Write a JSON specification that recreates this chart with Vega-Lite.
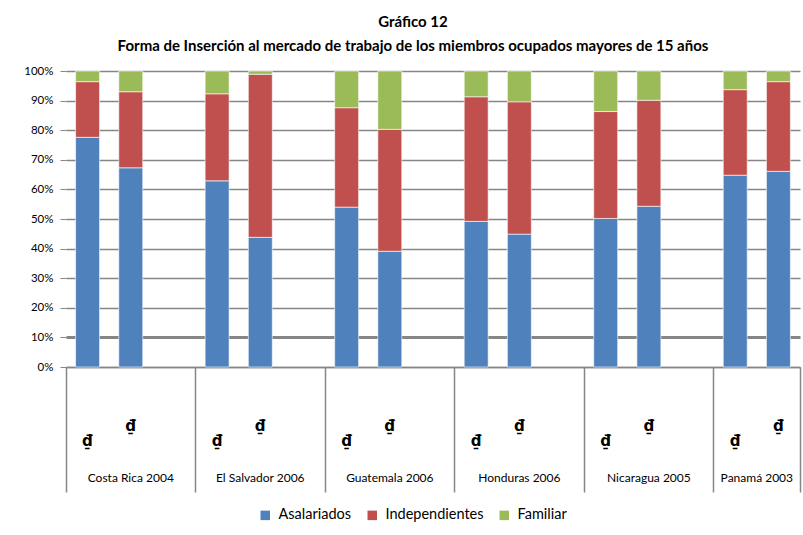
{
  "$schema": "https://vega.github.io/schema/vega-lite/v6.json",
  "width": 734,
  "height": 296,
  "autosize": {"type": "none"},
  "padding": {"left": 66, "top": 71, "right": 3, "bottom": 168},
  "background": "white",
  "title": {
    "text": ["Gráfico 12", "Forma de Inserción al mercado de trabajo de los miembros ocupados mayores de 15 años"],
    "font": "Lato", "fontSize": 15, "fontWeight": "bold", "lineHeight": 24,
    "anchor": "middle", "dx": -20, "offset": 11, "color": "#000000"
  },
  "config": {"view": {"stroke": null}, "font": "Lato"},
  "data": {
    "values": [
      {"slot": "CR1", "pais": "Costa Rica 2004", "serie": "Asalariados", "o": 1, "v": 77.6},
      {"slot": "CR1", "pais": "Costa Rica 2004", "serie": "Independientes", "o": 2, "v": 18.8},
      {"slot": "CR1", "pais": "Costa Rica 2004", "serie": "Familiar", "o": 3, "v": 3.6},
      {"slot": "CR2", "pais": "Costa Rica 2004", "serie": "Asalariados", "o": 1, "v": 67.3},
      {"slot": "CR2", "pais": "Costa Rica 2004", "serie": "Independientes", "o": 2, "v": 25.7},
      {"slot": "CR2", "pais": "Costa Rica 2004", "serie": "Familiar", "o": 3, "v": 7.0},
      {"slot": "ES1", "pais": "El Salvador 2006", "serie": "Asalariados", "o": 1, "v": 62.9},
      {"slot": "ES1", "pais": "El Salvador 2006", "serie": "Independientes", "o": 2, "v": 29.4},
      {"slot": "ES1", "pais": "El Salvador 2006", "serie": "Familiar", "o": 3, "v": 7.7},
      {"slot": "ES2", "pais": "El Salvador 2006", "serie": "Asalariados", "o": 1, "v": 43.8},
      {"slot": "ES2", "pais": "El Salvador 2006", "serie": "Independientes", "o": 2, "v": 55.1},
      {"slot": "ES2", "pais": "El Salvador 2006", "serie": "Familiar", "o": 3, "v": 1.1},
      {"slot": "GU1", "pais": "Guatemala 2006", "serie": "Asalariados", "o": 1, "v": 54.0},
      {"slot": "GU1", "pais": "Guatemala 2006", "serie": "Independientes", "o": 2, "v": 33.6},
      {"slot": "GU1", "pais": "Guatemala 2006", "serie": "Familiar", "o": 3, "v": 12.4},
      {"slot": "GU2", "pais": "Guatemala 2006", "serie": "Asalariados", "o": 1, "v": 39.1},
      {"slot": "GU2", "pais": "Guatemala 2006", "serie": "Independientes", "o": 2, "v": 41.2},
      {"slot": "GU2", "pais": "Guatemala 2006", "serie": "Familiar", "o": 3, "v": 19.7},
      {"slot": "HO1", "pais": "Honduras 2006", "serie": "Asalariados", "o": 1, "v": 49.2},
      {"slot": "HO1", "pais": "Honduras 2006", "serie": "Independientes", "o": 2, "v": 42.1},
      {"slot": "HO1", "pais": "Honduras 2006", "serie": "Familiar", "o": 3, "v": 8.7},
      {"slot": "HO2", "pais": "Honduras 2006", "serie": "Asalariados", "o": 1, "v": 44.9},
      {"slot": "HO2", "pais": "Honduras 2006", "serie": "Independientes", "o": 2, "v": 44.7},
      {"slot": "HO2", "pais": "Honduras 2006", "serie": "Familiar", "o": 3, "v": 10.4},
      {"slot": "NI1", "pais": "Nicaragua 2005", "serie": "Asalariados", "o": 1, "v": 50.2},
      {"slot": "NI1", "pais": "Nicaragua 2005", "serie": "Independientes", "o": 2, "v": 36.1},
      {"slot": "NI1", "pais": "Nicaragua 2005", "serie": "Familiar", "o": 3, "v": 13.7},
      {"slot": "NI2", "pais": "Nicaragua 2005", "serie": "Asalariados", "o": 1, "v": 54.3},
      {"slot": "NI2", "pais": "Nicaragua 2005", "serie": "Independientes", "o": 2, "v": 35.8},
      {"slot": "NI2", "pais": "Nicaragua 2005", "serie": "Familiar", "o": 3, "v": 9.9},
      {"slot": "PA1", "pais": "Panamá 2003", "serie": "Asalariados", "o": 1, "v": 64.8},
      {"slot": "PA1", "pais": "Panamá 2003", "serie": "Independientes", "o": 2, "v": 28.9},
      {"slot": "PA1", "pais": "Panamá 2003", "serie": "Familiar", "o": 3, "v": 6.3},
      {"slot": "PA2", "pais": "Panamá 2003", "serie": "Asalariados", "o": 1, "v": 66.1},
      {"slot": "PA2", "pais": "Panamá 2003", "serie": "Independientes", "o": 2, "v": 30.3},
      {"slot": "PA2", "pais": "Panamá 2003", "serie": "Familiar", "o": 3, "v": 3.6}
    ]
  },
  "encoding": {
    "y": {
      "field": "v", "type": "quantitative", "stack": "zero",
      "scale": {"domain": [0, 100], "nice": false},
      "axis": {
        "title": null,
        "values": [0,10,20,30,40,50,60,70,80,90,100],
        "labelExpr": "datum.value + '%'",
        "labelOverlap": false,
        "grid": true, "gridColor": "#868686",
        "gridWidth": {"condition": {"test": "datum.value == 10", "value": 3}, "value": 1.5},
        "domain": false, "ticks": true, "tickSize": 6, "tickColor": "#868686",
        "labelPadding": 7, "labelFont": "Lato", "labelFontSize": 11.5, "labelColor": "#000000"
      }
    },
    "order": {"field": "o"}
  },
  "layer": [
    {
      "mark": {"type": "bar", "stroke": "#ffffff", "strokeWidth": 0.6, "width": {"band": 0.555}},
      "encoding": {
        "x": {
          "field": "slot", "type": "nominal",
          "scale": {
            "domain": ["CR1","CR2","CR3","ES1","ES2","ES3","GU1","GU2","GU3","HO1","HO2","HO3","NI1","NI2","NI3","PA1","PA2"],
            "paddingInner": 0, "paddingOuter": 0
          },
          "axis": {
            "orient": "bottom", "title": null,
            "values": ["CR1","CR2","ES1","ES2","GU1","GU2","HO1","HO2","NI1","NI2","PA1","PA2"],
            "ticks": false, "grid": false,
            "domain": true, "domainColor": "#868686", "domainWidth": 1.5,
            "labelExpr": "'₫'",
            "labelFont": "DejaVu Sans", "labelFontSize": 15, "labelFontWeight": "bold",
            "labelColor": "#000000", "labelAngle": 0, "labelBaseline": "middle",
            "labelPadding": {"condition": {"test": "slice(datum.value, -1) == '1'", "value": 73}, "value": 58},
            "labelOverlap": false
          }
        },
        "color": {
          "field": "serie", "type": "nominal",
          "scale": {"domain": ["Asalariados", "Independientes", "Familiar"], "range": ["#4F81BD", "#C0504D", "#9BBB59"]},
          "legend": {
            "orient": "none", "legendX": 192, "legendY": 437, "direction": "horizontal",
            "title": null, "symbolType": "square", "symbolSize": 90, "symbolStrokeWidth": 0,
            "labelFont": "Lato", "labelFontSize": 14.5, "labelColor": "#000000",
            "columnPadding": 13, "labelOffset": 6
          }
        }
      }
    },
    {
      "mark": {"type": "bar", "opacity": 0, "width": {"band": 0.555}},
      "encoding": {
        "x": {
          "field": "slot", "type": "nominal",
          "axis": {
            "orient": "bottom", "title": null,
            "values": ["CR1","CR3","ES3","GU3","HO3","NI3","PA2"],
            "bandPosition": 1, "tickExtra": true,
            "tickSize": 125, "tickColor": "#868686", "tickWidth": 1.5,
            "tickOpacity": {"condition": {"test": "datum.value == 'CR1'", "value": 0}, "value": 1},
            "domain": false, "grid": false,
            "labelExpr": "datum.value == 'CR3' ? 'Costa Rica 2004' : datum.value == 'ES3' ? 'El Salvador 2006' : datum.value == 'GU3' ? 'Guatemala 2006' : datum.value == 'HO3' ? 'Honduras 2006' : datum.value == 'NI3' ? 'Nicaragua 2005' : datum.value == 'PA2' ? 'Panamá 2003' : ''",
            "labelOffset": {"condition": {"test": "datum.value == 'PA2'", "value": -21.6}, "value": -43.18},
            "labelPadding": -15, "labelBaseline": "middle", "labelAngle": 0,
            "labelFont": "Lato", "labelFontSize": 12, "labelColor": "#000000",
            "labelOverlap": false
          }
        }
      }
    }
  ],
  "resolve": {"axis": {"x": "independent"}}
}
